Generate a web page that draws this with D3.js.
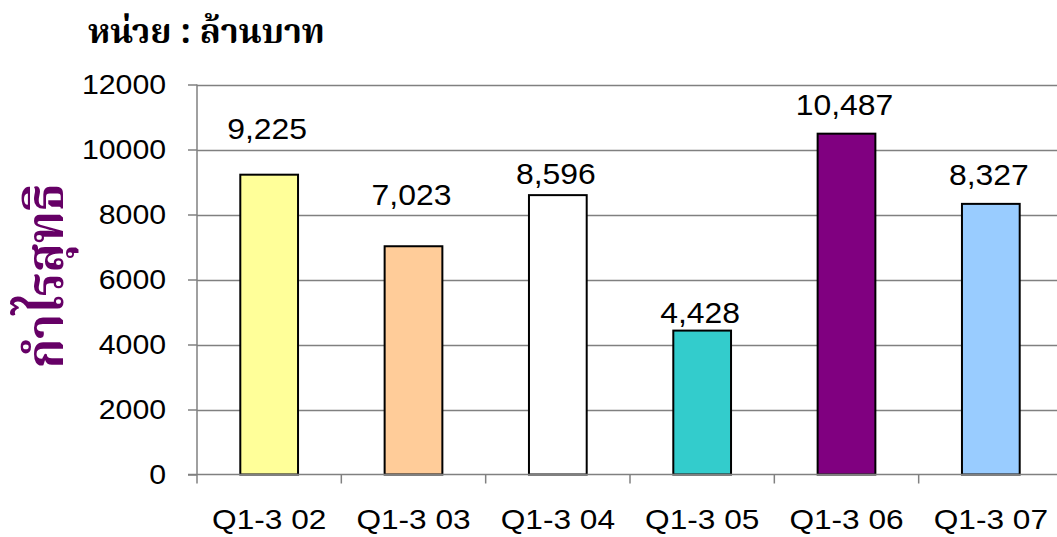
<!DOCTYPE html>
<html>
<head>
<meta charset="utf-8">
<script src="https://cdn.jsdelivr.net/npm/d3@7"></script>
<style>
  body { margin: 0; background: #fff; }
  svg { display: block; }
  .tick text { font-family: "Liberation Sans", Arial, sans-serif; }
</style>
</head>
<body>
<div id="vis"></div>
<script>
// chart data
const CATEGORIES = ["Q1-3 02", "Q1-3 03", "Q1-3 04", "Q1-3 05", "Q1-3 06", "Q1-3 07"];
const PROFIT = [9225, 7023, 8596, 4428, 10487, 8327];
const BAR_COLORS = ["#FFFF99", "#FFCC99", "#FFFFFF", "#33CCCC", "#800080", "#99CCFF"];
const Y_TICKS = [0, 2000, 4000, 6000, 8000, 10000, 12000];

// layout: labels were placed by hand in the original, gap from bar top to label baseline
const LABEL_GAP = [36, 41, 11, 8, 19, 19];

const FRAME_WIDTH = 1057;
const FRAME_HEIGHT = 537;
const PLOT = {left: 197, right: 1063, top: 84.5, bottom: 474.5};
const THAI_FONT = "'Noto Serif Thai', 'Loma', serif";

const FRAME = d3.select("#vis")
  .append("svg")
  .attr("width", FRAME_WIDTH)
  .attr("height", FRAME_HEIGHT);

// scales
const X_SCALE = d3.scaleBand()
  .domain(CATEGORIES)
  .range([PLOT.left, PLOT.right])
  .padding(0);

const Y_SCALE = d3.scaleLinear()
  .domain([0, 12000])
  .range([PLOT.bottom, PLOT.top]);

const BAR_W = X_SCALE.bandwidth() * 0.4;

// gridlines
FRAME.append("g")
  .selectAll("line")
  .data(Y_TICKS.filter(d => d > 0))
  .enter()
  .append("line")
  .attr("x1", PLOT.left)
  .attr("x2", FRAME_WIDTH)
  .attr("y1", d => Math.round(Y_SCALE(d)) + 0.5)
  .attr("y2", d => Math.round(Y_SCALE(d)) + 0.5)
  .attr("stroke", "#808080")
  .attr("stroke-width", 1.5);

// y axis
const yAxis = FRAME.append("g")
  .attr("transform", "translate(" + PLOT.left + ",0)")
  .call(d3.axisLeft(Y_SCALE).tickValues(Y_TICKS).tickFormat(d3.format("d")).tickSize(9));
yAxis.selectAll("line, path").attr("stroke", "#808080").attr("stroke-width", 1.5);
yAxis.select(".domain").attr("d", "M0," + PLOT.top + "V" + PLOT.bottom);
yAxis.selectAll("text")
  .attr("font-size", "28px")
  .attr("fill", "#000")
  .attr("x", -31 / 1.08)
  .attr("transform", "scale(1.08,1)");

// bars
FRAME.append("g")
  .selectAll("rect")
  .data(PROFIT)
  .enter()
  .append("rect")
  .attr("x", (d, i) => X_SCALE(CATEGORIES[i]) + (X_SCALE.bandwidth() - BAR_W) / 2)
  .attr("y", d => Y_SCALE(d))
  .attr("width", BAR_W)
  .attr("height", d => PLOT.bottom - Y_SCALE(d))
  .attr("fill", (d, i) => BAR_COLORS[i])
  .attr("stroke", "#000")
  .attr("stroke-width", 2);

// x axis
const xAxis = FRAME.append("g")
  .attr("transform", "translate(0," + PLOT.bottom + ")")
  .call(d3.axisBottom(X_SCALE).tickSize(0).tickPadding(35));
xAxis.select(".domain").attr("d", "M" + (PLOT.left - 9) + ",0H" + FRAME_WIDTH)
  .attr("stroke", "#808080").attr("stroke-width", 1.5);
xAxis.selectAll("text")
  .attr("font-size", "28px")
  .attr("fill", "#000")
  .attr("transform", "scale(1.13,1)");
// ticks on band boundaries
xAxis.selectAll(".sep")
  .data(CATEGORIES)
  .enter()
  .append("line")
  .attr("x1", d => X_SCALE(d))
  .attr("x2", d => X_SCALE(d))
  .attr("y1", 0)
  .attr("y2", 9)
  .attr("stroke", "#808080")
  .attr("stroke-width", 1.5);

// value labels
FRAME.append("g")
  .selectAll("text")
  .data(PROFIT)
  .enter()
  .append("text")
  .attr("transform", (d, i) => "translate(" + (X_SCALE(CATEGORIES[i]) + X_SCALE.bandwidth() / 2 - 2) + "," + (Y_SCALE(d) - LABEL_GAP[i]) + ") scale(1.1,1)")
  .attr("text-anchor", "middle")
  .attr("font-family", "'Liberation Sans', Arial, sans-serif")
  .attr("font-size", "29px")
  .attr("fill", "#000")
  .text(d => d3.format(",")(d));

// unit title, stretched to the width of the original
const unitTitle = FRAME.append("text")
  .attr("font-family", THAI_FONT)
  .attr("font-size", "34px")
  .attr("font-weight", "bold")
  .attr("fill", "#000")
  .text("หน่วย : ล้านบาท");
const unitW = unitTitle.node().getComputedTextLength();
unitTitle.attr("transform", "translate(88,43) scale(" + (237 / unitW) + ",1)");

// y axis title
const yTitle = FRAME.append("text")
  .attr("text-anchor", "middle")
  .attr("font-family", THAI_FONT)
  .attr("font-size", "52px")
  .attr("font-weight", "bold")
  .attr("fill", "#660066")
  .text("กำไรสุทธิ");
const yTitleW = yTitle.node().getComputedTextLength();
yTitle.attr("transform", "translate(63,276) rotate(-90) scale(" + (185 / yTitleW) + ",1)");
</script>
</body>
</html>
